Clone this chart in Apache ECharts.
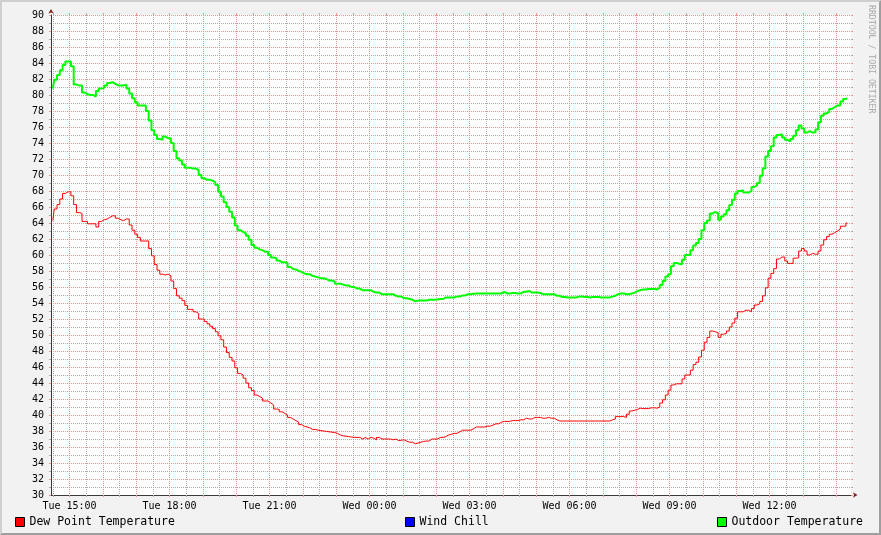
<!DOCTYPE html>
<html>
<head>
<meta charset="utf-8">
<script src="https://cdn.jsdelivr.net/npm/echarts@6/dist/echarts.min.js"></script>
<style>
html,body{margin:0;padding:0;background:#f2f2f2;}
#chart{width:881px;height:535px;}
</style>
</head>
<body>
<div id="chart"></div>
<script>
// ---- data (5-minute samples, hours since Tue 00:00) ----
const firstSampleHour = 14.5;       // Tue 14:30
const sampleStepHours = 1 / 12;     // 5 minutes

const outdoorTemp = [
  80.8, 81.9, 82.5, 83.1, 83.75, 84.2,
  84.2, 83.6, 81.3, 81.2, 81.2, 80.3, 80.1, 80.0, 80.0, 79.8, 80.5, 80.8,
  80.9, 81.2, 81.5, 81.6, 81.4, 81.2, 81.2, 81.2, 81.3, 80.8, 80.2, 79.6,
  79.1, 78.7, 78.7, 78.7, 78.0, 76.8, 75.6, 75.0, 74.5, 74.4, 74.8, 74.6,
  74.6, 74.0, 73.0, 72.1, 71.8, 71.3, 70.9, 70.9, 70.8, 70.8, 70.6, 70.0,
  69.6, 69.4, 69.4, 69.3, 69.1, 68.75, 67.9, 67.3, 66.6, 66.0, 65.4, 64.7,
  63.7, 63.1, 62.9, 62.7, 62.4, 61.9, 61.25, 60.9, 60.7, 60.6, 60.4, 60.4,
  60.0, 59.7, 59.6, 59.3, 59.1, 59.1, 59.0, 58.5, 58.25, 58.2, 58.0, 57.9,
  57.7, 57.6, 57.6, 57.4, 57.3, 57.2, 57.1, 57.1, 57.0, 56.8, 56.8, 56.7,
  56.4, 56.4, 56.3, 56.2, 56.2, 56.0, 56.0, 55.8, 55.8, 55.6, 55.6, 55.6,
  55.6, 55.4, 55.3, 55.3, 55.1, 55.1, 55.1, 55.1, 55.1, 54.9, 54.8, 54.8,
  54.6, 54.6, 54.5, 54.4, 54.2, 54.3, 54.3, 54.3, 54.3, 54.4, 54.4, 54.4,
  54.45, 54.5, 54.5, 54.7, 54.7, 54.7, 54.7, 54.8, 54.8, 54.95, 54.95, 55.1,
  55.1, 55.17, 55.2, 55.2, 55.2, 55.2, 55.2, 55.2, 55.2, 55.2, 55.2, 55.2,
  55.4, 55.2, 55.2, 55.25, 55.25, 55.2, 55.2, 55.4, 55.4, 55.5, 55.3, 55.3,
  55.3, 55.25, 55.1, 55.1, 55.1, 55.1, 55.1, 54.9, 54.9, 54.75, 54.75, 54.7,
  54.7, 54.7, 54.7, 54.8, 54.8, 54.75, 54.75, 54.7, 54.75, 54.75, 54.75, 54.7,
  54.7, 54.7, 54.7, 54.8, 54.9, 55.1, 55.2, 55.2, 55.1, 55.1, 55.2, 55.3,
  55.5, 55.6, 55.7, 55.7, 55.75, 55.75, 55.75, 55.7, 55.9, 56.25, 56.75, 57.3,
  57.6, 58.6, 59.0, 58.9, 58.85, 59.4, 60.0, 60.0, 60.6, 61.2, 61.5, 62.0,
  63.1, 64.0, 64.3, 65.2, 65.4, 65.2, 64.4, 64.8, 65.1, 65.6, 66.25, 66.9,
  67.7, 68.0, 68.1, 67.8, 67.8, 68.0, 68.5, 68.7, 69.0, 69.9, 70.8, 72.3,
  73.0, 73.6, 74.7, 75.0, 75.1, 74.7, 74.4, 74.2, 74.5, 74.9, 75.6, 76.2,
  75.8, 75.3, 75.5, 75.3, 75.3, 75.7, 76.6, 77.4, 77.7, 77.9, 78.25, 78.5,
  78.7, 78.7, 79.2, 79.5, 79.6
];

const dewPoint = [
  64.3, 65.75, 66.3, 67.0, 67.7, 67.9,
  67.9, 67.4, 66.3, 65.3, 65.2, 64.2, 64.2, 63.9, 63.9, 63.9, 63.5, 64.2,
  64.4, 64.5, 64.7, 64.9, 64.9, 64.6, 64.4, 64.3, 64.5, 64.5, 63.75, 63.1,
  62.6, 62.2, 61.75, 61.75, 61.75, 60.8, 59.9, 58.8, 58.1, 57.6, 57.5, 57.6,
  57.4, 56.75, 55.8, 54.9, 54.6, 54.3, 53.7, 53.2, 53.2, 52.9, 52.7, 52.0,
  52.0, 51.7, 51.4, 51.1, 50.8, 50.4, 49.9, 49.4, 48.5, 47.8, 47.2, 46.75,
  45.9, 45.2, 45.0, 44.6, 44.0, 43.4, 43.05, 42.5, 42.3, 42.1, 41.75, 41.75,
  41.5, 41.25, 40.75, 40.7, 40.4, 40.2, 40.0, 39.7, 39.5, 39.3, 39.1, 38.8,
  38.6, 38.5, 38.4, 38.2, 38.2, 38.1, 38.05, 38.0, 37.95, 37.9, 37.85, 37.8,
  37.7, 37.5, 37.4, 37.35, 37.3, 37.25, 37.2, 37.2, 37.2, 37.0, 37.2, 37.0,
  37.2, 37.1, 36.9, 37.2, 37.0, 37.0, 37.0, 37.0, 36.9, 37.0, 36.8, 36.85,
  36.9, 36.7, 36.6, 36.6, 36.4, 36.5, 36.6, 36.7, 36.75, 36.75, 37.0, 37.0,
  37.0, 37.2, 37.2, 37.3, 37.5, 37.6, 37.7, 37.7, 37.9, 38.1, 38.1, 38.1,
  38.1, 38.3, 38.5, 38.5, 38.5, 38.5, 38.6, 38.6, 38.75, 38.9, 38.9, 39.1,
  39.2, 39.2, 39.2, 39.3, 39.3, 39.3, 39.4, 39.4, 39.6, 39.5, 39.5, 39.7,
  39.7, 39.7, 39.6, 39.6, 39.7, 39.6, 39.6, 39.4, 39.25, 39.25, 39.25, 39.25,
  39.25, 39.25, 39.25, 39.25, 39.25, 39.25, 39.25, 39.25, 39.25, 39.25, 39.25, 39.25,
  39.25, 39.25, 39.25, 39.4, 39.5, 39.8, 39.8, 39.8, 39.7, 40.1, 40.5, 40.6,
  40.7, 40.85, 40.8, 40.8, 40.8, 40.9, 40.9, 40.85, 41.0, 41.5, 41.9, 42.5,
  43.1, 43.75, 43.9, 43.9, 43.9, 44.5, 45.0, 45.0, 45.6, 46.3, 46.6, 47.25,
  48.1, 49.1, 49.7, 50.5, 50.4, 50.3, 49.7, 50.1, 50.2, 50.5, 51.0, 51.5,
  52.1, 52.9, 52.9, 53.1, 53.1, 52.9, 53.3, 53.75, 53.9, 54.2, 54.9, 55.9,
  57.1, 57.7, 58.3, 59.5, 59.75, 59.75, 59.25, 58.95, 58.95, 59.6, 59.65, 60.5,
  60.8, 60.5, 60.0, 60.2, 60.1, 60.1, 60.5, 61.25, 61.9, 62.3, 62.6, 62.8,
  63.0, 63.25, 63.6, 63.6, 64.0
];

const windChill = [];   // no data in this period

const seriesNames = ['Dew Point Temperature', 'Wind Chill', 'Outdoor Temperature'];

const xLabelHours = [15, 18, 21, 24, 27, 30, 33, 36];
const xLabelTexts = ['Tue 15:00', 'Tue 18:00', 'Tue 21:00', 'Wed 00:00', 'Wed 03:00', 'Wed 06:00', 'Wed 09:00', 'Wed 12:00'];

// ---- axis extents ----
const X_MIN = 14 + 26 / 60 + 40 / 3600;   // Tue 14:26:40
const X_MAX = X_MIN + 24;
const Y_MIN = 30, Y_MAX = 90, Y_STEP = 2;

const hourTicks = [];
for (let h = 15; h <= 38; h++) hourTicks.push(h);
const halfHourTicks = [];
for (let h = 14.5; h < X_MAX; h += 1) halfHourTicks.push(h);

function toPairs(vals) {
  return vals.map((v, i) => [firstSampleHour + i * sampleStepHours, v]);
}

// ---- style ----
const FONT = 'DejaVu Sans Mono';
const GRID_C = '#ababab';
const MGRID_C = '#eb9595';
const AXIS_C = '#3a3a3a';
const ARROW_C = '#801f1f';

const chart = echarts.init(document.getElementById('chart'), null, {renderer: 'canvas'});

const baseX = {type: 'value', min: X_MIN, max: X_MAX, gridIndex: 0};
const baseY = {type: 'value', min: Y_MIN, max: Y_MAX, interval: Y_STEP, gridIndex: 0};

const legendCommon = {
  orient: 'horizontal', padding: 0, itemWidth: 9, itemHeight: 9, itemGap: 0,
  icon: 'rect', selectedMode: false,
  itemStyle: {borderColor: '#000', borderWidth: 1},
  textStyle: {fontFamily: FONT, fontSize: 11.5, color: '#000'}
};

chart.setOption({
  animation: false,
  backgroundColor: '#f2f2f2',
  grid: {left: 51, right: 30, top: 15, bottom: 40, show: true, backgroundColor: '#ffffff', borderWidth: 0},
  xAxis: [
    Object.assign({}, baseX, {   // minor grid, bottom ticks
      position: 'bottom',
      axisLine: {show: false, onZero: false},
      axisLabel: {show: false},
      axisTick: {show: true, customValues: halfHourTicks, length: 2, lineStyle: {color: GRID_C, width: 1}},
      splitLine: {show: true, lineStyle: {color: GRID_C, width: 1, type: [1, 1]}}
    }),
    Object.assign({}, baseX, {   // major grid + labels + axis line
      position: 'bottom',
      axisLine: {show: true, onZero: false, lineStyle: {color: AXIS_C, width: 1}},
      axisTick: {show: true, customValues: hourTicks, length: 2, lineStyle: {color: MGRID_C, width: 1}},
      axisLabel: {
        show: true, customValues: xLabelHours, margin: 6,
        fontFamily: FONT, fontSize: 10, color: '#000',
        formatter: function (v) {
          const idx = xLabelHours.indexOf(Math.round(v));
          return idx >= 0 ? xLabelTexts[idx] : '';
        }
      },
      splitLine: {show: true, lineStyle: {color: MGRID_C, width: 1, type: [1, 1]}}
    }),
    Object.assign({}, baseX, {   // top minor ticks
      position: 'top',
      axisLine: {show: false, onZero: false},
      axisLabel: {show: false},
      axisTick: {show: true, customValues: halfHourTicks, length: 2, lineStyle: {color: GRID_C, width: 1}},
      splitLine: {show: false}
    }),
    Object.assign({}, baseX, {   // top major ticks
      position: 'top',
      axisLine: {show: false, onZero: false},
      axisLabel: {show: false},
      axisTick: {show: true, customValues: hourTicks, length: 2, lineStyle: {color: MGRID_C, width: 1}},
      splitLine: {show: false}
    }),
    Object.assign({}, baseX, {   // arrow head
      position: 'bottom',
      axisLine: {show: true, onZero: false, symbol: ['none', 'arrow'], symbolSize: [4, 4.5], symbolOffset: [0, 6.5],
        lineStyle: {color: ARROW_C, opacity: 0}},
      axisLabel: {show: false}, axisTick: {show: false}, splitLine: {show: false}
    })
  ],
  yAxis: [
    Object.assign({}, baseY, {
      position: 'left',
      axisLine: {show: true, onZero: false, lineStyle: {color: AXIS_C, width: 1}},
      axisTick: {show: true, length: 2, lineStyle: {color: MGRID_C, width: 1}},
      minorTick: {show: true, splitNumber: 2, length: 2, lineStyle: {color: GRID_C, width: 1}},
      axisLabel: {show: true, margin: 7, padding: [5, 0, 0, 0], fontFamily: FONT, fontSize: 10, color: '#000'},
      splitLine: {show: true, lineStyle: {color: MGRID_C, width: 1, type: [1, 1]}},
      minorSplitLine: {show: true, lineStyle: {color: GRID_C, width: 1, type: [1, 1]}}
    }),
    Object.assign({}, baseY, {
      position: 'right',
      axisLine: {show: false, onZero: false},
      axisTick: {show: true, length: 2, lineStyle: {color: MGRID_C, width: 1}},
      minorTick: {show: true, splitNumber: 2, length: 2, lineStyle: {color: GRID_C, width: 1}},
      axisLabel: {show: false},
      splitLine: {show: false}
    }),
    Object.assign({}, baseY, {
      position: 'left',
      axisLine: {show: true, onZero: false, symbol: ['none', 'arrow'], symbolSize: [4, 4.5], symbolOffset: [0, 6],
        lineStyle: {color: ARROW_C, opacity: 0}},
      axisTick: {show: false}, axisLabel: {show: false}, splitLine: {show: false}
    })
  ],
  legend: [
    Object.assign({}, legendCommon, {data: [seriesNames[0]], left: 15, top: 516}),
    Object.assign({}, legendCommon, {data: [seriesNames[1]], left: 405, top: 516}),
    Object.assign({}, legendCommon, {data: [seriesNames[2]], left: 717, top: 516})
  ],
  graphic: [
    {type: 'polygon', silent: true, shape: {points: [[0, 535], [2, 533], [2, 2], [879, 2], [881, 0], [0, 0]]}, style: {fill: '#cfcfcf'}},
    {type: 'polygon', silent: true, shape: {points: [[2, 533], [879, 533], [879, 2], [881, 0], [881, 535], [0, 535]]}, style: {fill: '#9e9e9e'}},
    {type: 'text', silent: true, x: 871.5, y: 5, rotation: -Math.PI / 2,
      style: {text: 'RRDTOOL / TOBI OETIKER', fill: '#a9a9a9', font: '8.2px "DejaVu Sans Mono"', align: 'left', verticalAlign: 'middle'}}
  ],
  series: [
    {name: seriesNames[0], type: 'line', xAxisIndex: 1, yAxisIndex: 0, step: 'middle',
      showSymbol: false, symbol: 'none', color: '#ff0000', lineStyle: {width: 1, color: '#ff0000'},
      data: toPairs(dewPoint), z: 3},
    {name: seriesNames[1], type: 'line', xAxisIndex: 1, yAxisIndex: 0, step: 'middle',
      showSymbol: false, symbol: 'none', color: '#0000ff', lineStyle: {width: 1, color: '#0000ff'},
      data: toPairs(windChill), z: 3},
    {name: seriesNames[2], type: 'line', xAxisIndex: 1, yAxisIndex: 0, step: 'middle',
      showSymbol: false, symbol: 'none', color: '#00ff00', lineStyle: {width: 2, color: '#00ff00'},
      data: toPairs(outdoorTemp), z: 3}
  ]
});
</script>
</body>
</html>
